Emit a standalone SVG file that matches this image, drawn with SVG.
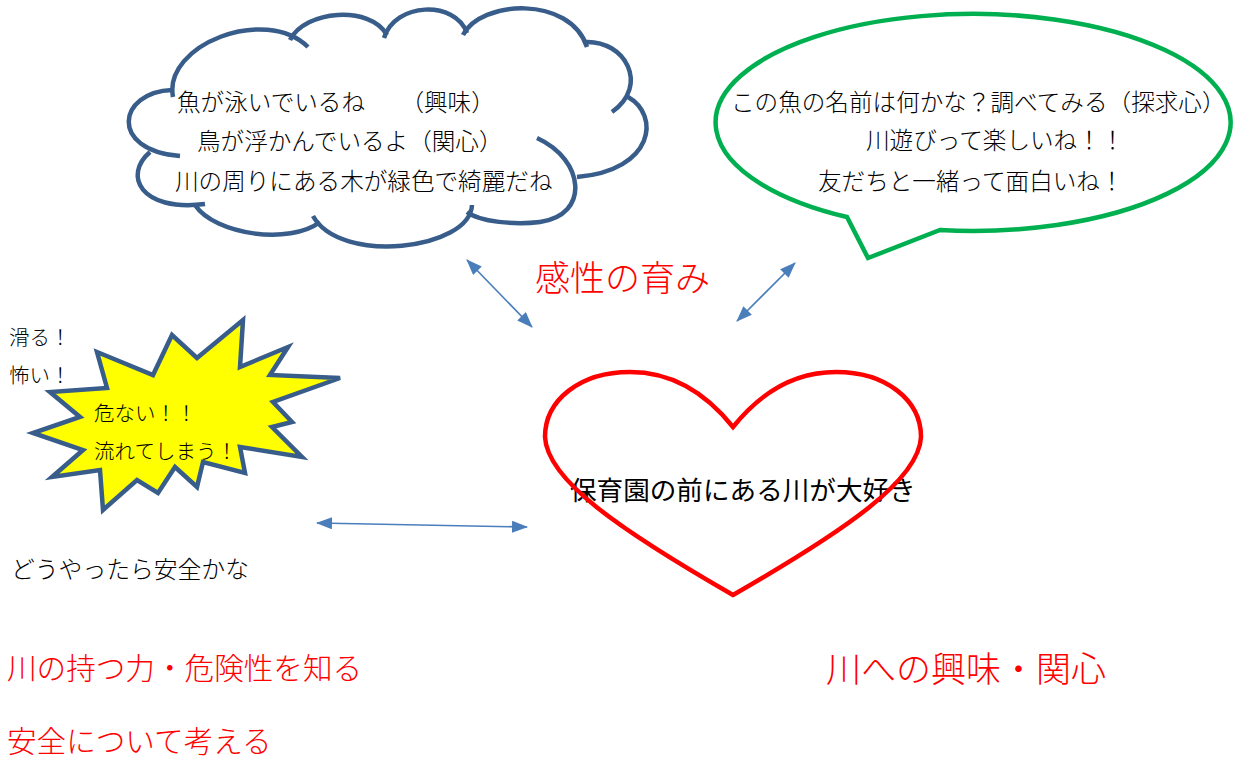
<svg xmlns="http://www.w3.org/2000/svg" width="1243" height="758" viewBox="0 0 1243 758">
<style>
.cloud{fill:none;stroke:#385D8A;stroke-width:4.5;stroke-linecap:butt}
.mincho{font-family:"Liberation Serif","Noto Sans CJK JP",serif;font-weight:300;fill:#000}
.red{fill:#FF0000}
.goth{font-family:"Liberation Sans","Noto Sans CJK JP",sans-serif;fill:#000}
.conn{stroke:#4A7EBB;stroke-width:1.6;fill:none;marker-start:url(#ah);marker-end:url(#ah)}
</style>
<defs>
<marker id="ah" markerUnits="userSpaceOnUse" markerWidth="16" markerHeight="12" refX="15" refY="6" orient="auto-start-reverse" viewBox="0 0 16 12">
<path d="M0,0 L16,6 L0,12 z" fill="#4A7EBB"/>
</marker>
</defs>
<rect width="1243" height="758" fill="#fff"/>

<g id="cloud">
<path class="cloud" d="M173,97 C163,45 265,5 308,47"/>
<path class="cloud" d="M290,40 C305,10 370,5 387,35"/>
<path class="cloud" d="M384,38 C395,2 455,0 467,33"/>
<path class="cloud" d="M463,35 C480,0 570,-5 587,47"/>
<path class="cloud" d="M585,42 C625,40 650,85 612,112"/>
<path class="cloud" d="M628,97 C660,115 655,170 577,177"/>
<path class="cloud" d="M537,138 C585,160 590,215 540,222 C515,225 480,222 467,212"/>
<path class="cloud" d="M472,205 C470,250 340,265 313,216"/>
<path class="cloud" d="M195,205 C215,235 290,245 320,222"/>
<path class="cloud" d="M150,152 C123,175 140,212 205,204"/>
<path class="cloud" d="M172,90 C118,92 108,150 180,156"/>
<text class="mincho" font-size="23.6" x="177" y="111">魚が泳いでいるね　　（興味）</text>
<text class="mincho" font-size="23.6" x="197" y="150">鳥が浮かんでいるよ（関心）</text>
<text class="mincho" font-size="23.6" x="175" y="190">川の周りにある木が緑色で綺麗だね</text>
</g>

<g id="speech">
<path d="M847,217 L868,258 L940,230 A257.5 108.5 0 1 0 847,217 Z" fill="#fff" stroke="#00B050" stroke-width="4.5" stroke-linejoin="miter"/>
<text class="mincho" font-size="23.6" x="731" y="111">この魚の名前は何かな？調べてみる（探求心）</text>
<text class="mincho" font-size="23.6" x="866" y="149">川遊びって楽しいね！！</text>
<text class="mincho" font-size="23.6" x="818" y="190">友だちと一緒って面白いね！</text>
</g>

<g id="kansei">
<text class="mincho red" font-size="35" x="535" y="291">感性の育み</text>
</g>

<g id="burst">
<path d="M243,320 L240,367 L288,347 L270,375 L340,378 L273,402 L292,422 L272,427 L302,457 L240,447 L245,473 L203,462 L197,487 L175,467 L158,493 L137,480 L103,510 L100,470 L52,477 L83,450 L33,433 L80,417 L50,392 L107,388 L97,352 L153,375 L172,335 L197,358 Z" fill="#FFFF00" stroke="#385D8A" stroke-width="4.5" stroke-linejoin="miter"/>
<text class="mincho" font-size="20.5" x="94" y="421">危ない！！</text>
<text class="mincho" font-size="20.5" x="94" y="459">流れてしまう！</text>
</g>

<g id="slip">
<text class="mincho" font-size="20.5" x="9" y="345">滑る！</text>
<text class="mincho" font-size="20.5" x="9" y="383">怖い！</text>
</g>

<g id="safe">
<text class="mincho" font-size="23.8" x="11" y="578">どうやったら安全かな</text>
</g>

<g id="power">
<text class="mincho red" font-size="29.6" x="7" y="679">川の持つ力・危険性を知る</text>
<text class="mincho red" font-size="29.6" x="7" y="752">安全について考える</text>
</g>

<g id="interest">
<text class="mincho red" font-size="35" x="826" y="682">川への興味・関心</text>
</g>

<g id="heart">
<text class="goth" font-size="26.6" x="570" y="500">保育園の前にある川が大好き</text>
<path d="M733,427 C705,392 670,372 630,372 C580,372 545,400 545,437 C547,480 620,530 733,595 C846,530 919,480 921,437 C921,400 886,372 836,372 C796,372 761,392 733,427 Z" fill="none" stroke="#FF0000" stroke-width="4.5" stroke-linejoin="miter"/>
</g>

<g id="connectors">
<line class="conn" x1="467" y1="260" x2="532" y2="327"/>
<line class="conn" x1="795" y1="263" x2="737" y2="321"/>
<line class="conn" x1="317" y1="523" x2="527" y2="527"/>
</g>
</svg>
